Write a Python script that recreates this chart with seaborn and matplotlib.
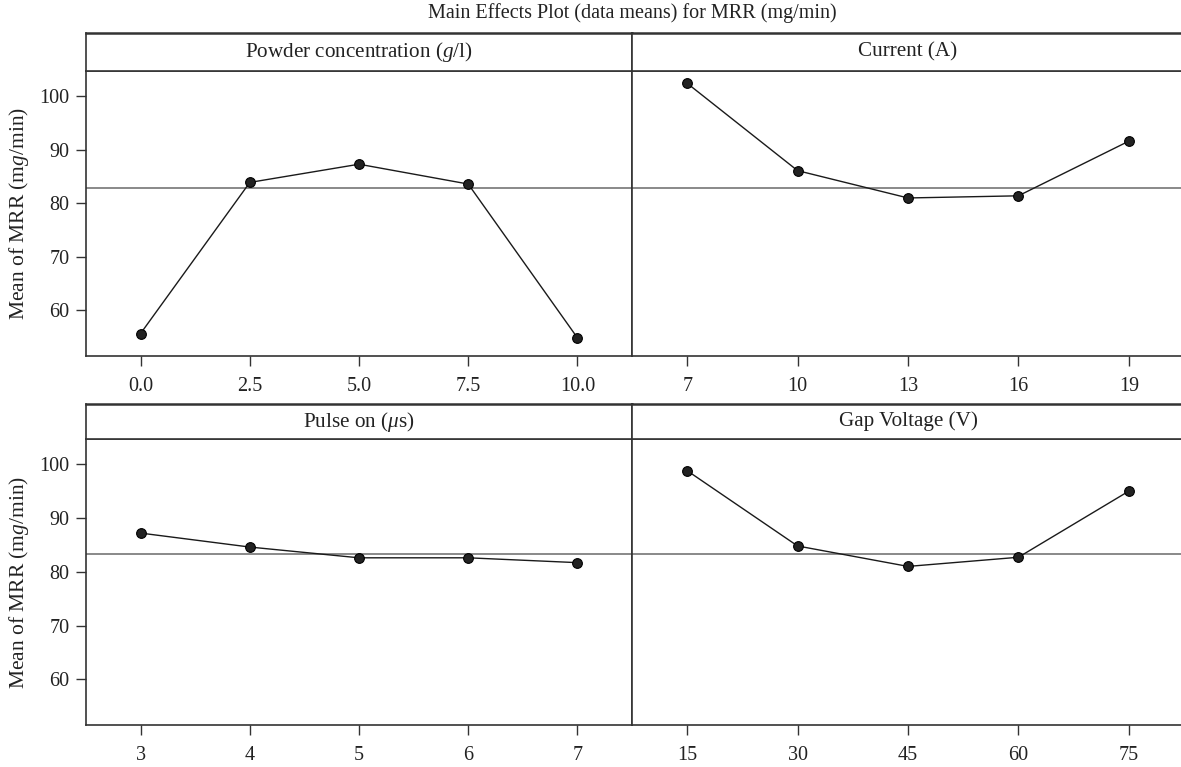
import numpy as np
import pandas as pd
import matplotlib
matplotlib.use('Agg')
import matplotlib.pyplot as plt
import seaborn as sns

# factor levels and mean MRR (mg/min)
powder_levels = [0.0, 2.5, 5.0, 7.5, 10.0]
powder_mrr = [55.7, 83.9, 87.3, 83.6, 54.9]
current_levels = [7, 10, 13, 16, 19]
current_mrr = [102.4, 86.1, 81.0, 81.4, 91.6]
pulse_levels = [3, 4, 5, 6, 7]
pulse_mrr = [87.2, 84.6, 82.6, 82.6, 81.7]
gap_levels = [15, 30, 45, 60, 75]
gap_mrr = [98.8, 84.8, 81.0, 82.7, 95.0]

powder_ticks = ['0.0', '2.5', '5.0', '7.5', '10.0']
current_ticks = ['7', '10', '13', '16', '19']
pulse_ticks = ['3', '4', '5', '6', '7']
gap_ticks = ['15', '30', '45', '60', '75']

grand_mean = [82.9, 82.9, 83.4, 83.4]
y_ticks = [60, 70, 80, 90, 100]

titles = [r'Powder concentration ($\mathit{g}$/l)', 'Current (A)',
          r'Pulse on ($\mathit{\mu}$s)', 'Gap Voltage (V)']

sns.set_theme(style='white')
plt.rcParams['font.family'] = ['Liberation Serif', 'DejaVu Serif']
plt.rcParams['mathtext.fontset'] = 'custom'
plt.rcParams['mathtext.rm'] = 'Liberation Serif'
plt.rcParams['mathtext.it'] = 'Liberation Serif:italic'

W, H = 1181, 767
fig = plt.figure(figsize=(W / 100, H / 100), dpi=100)

def fx(px):
    return px / W

def fy(px):
    return 1 - px / H

# right column runs just past the canvas edge, so its right border is not seen
cols = [(86, 632), (632, 1184)]
rows = [(33, 71, 356), (404, 439, 725)]  # header top, header bottom / axes top, axes bottom

panels = [
    (powder_levels, powder_mrr, powder_ticks),
    (current_levels, current_mrr, current_ticks),
    (pulse_levels, pulse_mrr, pulse_ticks),
    (gap_levels, gap_mrr, gap_ticks),
]

edge = '#333333'
txt = '#222222'
for i, (lv, mrr, tl) in enumerate(panels):
    r, c = divmod(i, 2)
    x0, x1 = cols[c]
    ht, hb, ab = rows[r]
    ax = fig.add_axes([fx(x0), fy(ab), fx(x1) - fx(x0), fy(hb) - fy(ab)])
    hax = fig.add_axes([fx(x0), fy(hb), fx(x1) - fx(x0), fy(ht) - fy(hb)])

    df = pd.DataFrame({'level': lv, 'mrr': mrr})
    ax.axhline(grand_mean[i], color='#808080', lw=1.3, zorder=1)
    sns.lineplot(data=df, x='level', y='mrr', ax=ax, color='#1a1a1a', lw=1.0,
                 marker='o', markersize=7, markerfacecolor='#222222',
                 markeredgecolor='#000000', markeredgewidth=0.8, zorder=3)

    step = lv[1] - lv[0]
    ax.set_xlim(lv[0] - step / 2, lv[-1] + step / 2)
    ax.set_ylim(51.5, 104.7)
    ax.set_xticks(lv)
    ax.set_xticklabels(tl)
    ax.set_xlabel('')
    ax.tick_params(axis='x', direction='out', length=7, width=1, color=edge,
                   labelsize=14.5, labelcolor=txt, pad=8, bottom=True)
    if c == 0:
        ax.set_yticks(y_ticks)
        ax.tick_params(axis='y', direction='out', length=7, width=1, color=edge,
                       labelsize=14.5, labelcolor=txt, pad=5, left=True)
        ax.set_ylabel(r'Mean of MRR (m$\mathit{g}$/min)', fontsize=15.5,
                      color=txt, labelpad=6)
    else:
        ax.set_yticks([])
        ax.set_ylabel('')
    for s in ax.spines.values():
        s.set_color(edge)
        s.set_linewidth(1.2)

    hax.set_xticks([])
    hax.set_yticks([])
    for s in hax.spines.values():
        s.set_color(edge)
        s.set_linewidth(1.2)
    hax.spines['top'].set_linewidth(1.8)
    hax.text(0.5 if c == 0 else 0.5 * (1184 - 632) / (1184 - 632), 0.5, titles[i],
             ha='center', va='center', fontsize=15.2, color=txt,
             transform=hax.transAxes)

fig.text(0.535, fy(13), 'Main Effects Plot (data means) for MRR (mg/min)',
         ha='center', va='center', fontsize=14.5, color=txt)

fig.savefig('out.png', dpi=100)
